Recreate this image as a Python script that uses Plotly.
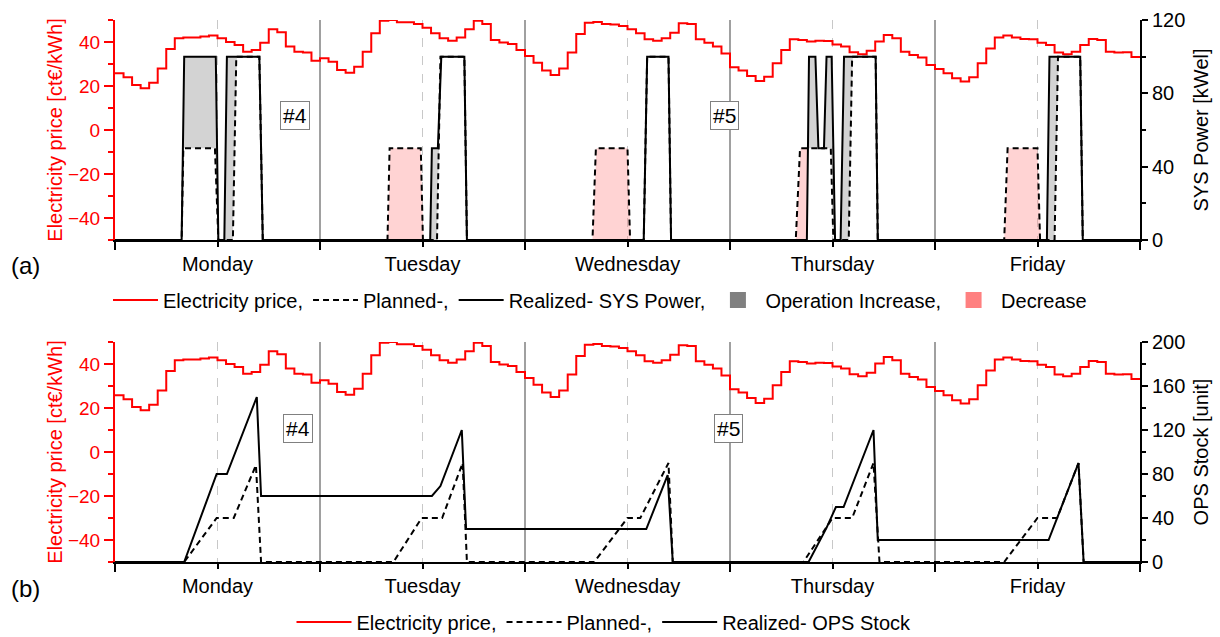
import numpy as np
import plotly.graph_objects as go

# ---------------- data ----------------
day_names = ["Monday", "Tuesday", "Wednesday", "Thursday", "Friday"]
day_centers = [12, 36, 60, 84, 108]
day_bounds = [0, 24, 48, 72, 96, 120]

# hourly electricity price [ct€/kWh], hours 0..119
price = [25.8, 24.0, 20.5, 19.0, 21.5, 28.0, 36.8, 41.7, 42.0, 42.0, 42.5, 43.0,
         41.7, 40.0, 38.6, 35.6, 36.4, 39.7, 45.8, 44.4, 37.9, 35.6, 35.2, 31.5,
         32.6, 31.0, 27.3, 26.0, 28.8, 35.6, 44.0, 49.7, 50.0, 49.0, 49.0, 48.2,
         46.5, 44.0, 41.7, 40.6, 42.1, 45.8, 49.7, 48.2, 40.9, 39.8, 39.1, 36.4,
         33.6, 30.6, 27.0, 25.0, 28.0, 35.2, 43.6, 48.8, 49.1, 48.2, 48.0, 47.3,
         45.8, 44.0, 41.2, 40.6, 41.7, 44.2, 48.5, 48.2, 41.2, 39.7, 37.9, 34.8,
         28.5, 27.0, 24.5, 22.3, 24.2, 30.3, 36.4, 41.2, 40.9, 40.2, 40.6, 40.5,
         38.9, 37.9, 35.3, 34.4, 36.0, 40.2, 43.2, 41.7, 35.6, 34.1, 33.0, 29.5,
         27.7, 25.8, 23.5, 22.0, 24.0, 30.3, 37.1, 42.0, 42.9, 42.1, 41.4, 41.2,
         39.7, 38.6, 35.2, 34.4, 35.6, 38.6, 41.4, 40.9, 35.6, 35.2, 35.3, 33.2]
price_hours = list(range(len(price)))

# SYS power [kWel] - planned
sys_plan_t = [0, 7.8, 8.0, 11.7, 12.1, 13.8, 14.2, 16.9, 17.3,
              31.9, 32.15, 35.8, 36.05, 37.7, 38.1, 40.9, 41.2,
              55.9, 56.3, 60.0, 60.3, 61.9, 62.3, 64.8, 65.1,
              79.7, 80.2, 83.8, 84.1, 85.9, 86.3, 89.05, 89.3,
              104.1, 104.5, 108.0, 108.3, 110.0, 110.4, 113.0, 113.3, 120]
sys_plan_v = [0, 0, 50, 50, 0, 0, 100, 100, 0,
              0, 50, 50, 0, 0, 100, 100, 0,
              0, 50, 50, 0, 0, 100, 100, 0,
              0, 50, 50, 0, 0, 100, 100, 0,
              0, 50, 50, 0, 0, 100, 100, 0, 0]

# SYS power [kWel] - realized
sys_real_t = [0, 7.8, 8.1, 11.8, 12.1, 12.8, 13.1, 16.9, 17.3,
              36.9, 37.1, 37.8, 38.2, 40.9, 41.2,
              61.9, 62.3, 64.8, 65.1,
              81.0, 81.25, 82.0, 82.35, 83.0, 83.3, 83.9, 84.3,
              84.95, 85.35, 89.05, 89.3,
              109.1, 109.4, 113.0, 113.3, 120]
sys_real_v = [0, 0, 100, 100, 0, 0, 100, 100, 0,
              0, 50, 50, 100, 100, 0,
              0, 100, 100, 0,
              0, 100, 100, 50, 50, 100, 100, 0,
              0, 100, 100, 0,
              0, 100, 100, 0, 0]

# OPS stock [unit] - planned
ops_plan_t = [0, 8.1, 11.9, 13.9, 16.5, 17.1,
              32.6, 35.9, 38.3, 40.7, 41.2,
              56.1, 60.0, 61.5, 64.8, 65.3,
              80.6, 84.0, 86.3, 88.8, 89.5,
              104.1, 108.0, 110.3, 112.8, 113.4, 120]
ops_plan_v = [0, 0, 40, 40, 88, 0,
              0, 40, 40, 90, 0,
              0, 40, 40, 90, 0,
              0, 40, 40, 90, 0,
              0, 40, 40, 90, 0, 0]

# OPS stock [unit] - realized
ops_real_t = [0, 8.1, 11.9, 13.1, 16.6, 17.1,
              37.1, 38.1, 40.6, 41.1,
              62.2, 64.7, 65.3,
              81.2, 83.3, 84.4, 85.3, 88.8, 89.3,
              109.3, 112.8, 113.4, 120]
ops_real_v = [0, 0, 80, 80, 150, 60,
              60, 69, 120, 30,
              30, 79, 0,
              0, 31, 50, 50, 120, 20,
              20, 90, 0, 0]

# ---------------- styling ----------------
FONT = "Liberation Sans, Arial, sans-serif"
RED = "#ff0000"
DASH = "6px,4px"

fig = go.Figure()

# fill areas (operation increase / decrease) between planned and realized SYS power
grid = np.union1d(np.linspace(0, 120, 4801), np.union1d(sys_plan_t, sys_real_t))
p_i = np.interp(grid, sys_plan_t, sys_plan_v)
r_i = np.interp(grid, sys_real_t, sys_real_v)
upper = np.maximum(p_i, r_i)

common = dict(xaxis="x", yaxis="y2", mode="lines", showlegend=False, hoverinfo="skip")
fig.add_trace(go.Scatter(x=grid, y=p_i, line=dict(width=0), **common))
fig.add_trace(go.Scatter(x=grid, y=upper, line=dict(width=0), fill="tonexty",
                         fillcolor="rgba(128,128,128,0.35)", **common))
fig.add_trace(go.Scatter(x=grid, y=r_i, line=dict(width=0), **common))
fig.add_trace(go.Scatter(x=grid, y=upper, line=dict(width=0), fill="tonexty",
                         fillcolor="rgba(255,128,128,0.35)", **common))

# top panel lines
px = price_hours + [120]
py = price + [price[-1]]
fig.add_trace(go.Scatter(x=px, y=py, xaxis="x", yaxis="y", mode="lines",
                         line=dict(color=RED, width=2, shape="hv"),
                         name="Electricity price,", legend="legend"))
fig.add_trace(go.Scatter(x=sys_plan_t, y=sys_plan_v, xaxis="x", yaxis="y2", mode="lines",
                         line=dict(color="black", width=2, dash=DASH),
                         name="Planned-,", legend="legend"))
fig.add_trace(go.Scatter(x=sys_real_t, y=sys_real_v, xaxis="x", yaxis="y2", mode="lines",
                         line=dict(color="black", width=2),
                         name="Realized- SYS Power,", legend="legend"))
fig.add_trace(go.Scatter(x=[None], y=[None], xaxis="x", yaxis="y2", mode="markers",
                         marker=dict(symbol="square", size=18, color="#808080"),
                         name="Operation Increase,", legend="legend"))
fig.add_trace(go.Scatter(x=[None], y=[None], xaxis="x", yaxis="y2", mode="markers",
                         marker=dict(symbol="square", size=18, color="#ff8080"),
                         name="Decrease", legend="legend"))

# bottom panel lines
fig.add_trace(go.Scatter(x=px, y=py, xaxis="x2", yaxis="y3", mode="lines",
                         line=dict(color=RED, width=2, shape="hv"),
                         name="Electricity price,", legend="legend2"))
fig.add_trace(go.Scatter(x=ops_plan_t, y=ops_plan_v, xaxis="x2", yaxis="y4", mode="lines",
                         line=dict(color="black", width=2, dash=DASH),
                         name="Planned-,", legend="legend2"))
fig.add_trace(go.Scatter(x=ops_real_t, y=ops_real_v, xaxis="x2", yaxis="y4", mode="lines",
                         line=dict(color="black", width=2),
                         name="Realized- OPS Stock", legend="legend2"))

W, H = 1220, 637
ML, MR, MT, MB = 115, 80, 20, 75
ph = H - MT - MB
pw = W - ML - MR


def py_frac(pix):
    return (H - MB - pix) / ph


def xaxis_cfg(anchor):
    return dict(domain=[0, 1], anchor=anchor, range=[0, 120],
                tickmode="array", tickvals=day_centers, ticktext=day_names,
                ticks="outside", ticklen=5, tickwidth=1.5, tickcolor="black",
                showline=True, linecolor="black", linewidth=2,
                showgrid=True, gridcolor="#c8c8c8", griddash="dash", gridwidth=1,
                minor=dict(tickmode="array", tickvals=day_bounds, ticks="outside", ticklen=8,
                           tickwidth=1.5, tickcolor="black", showgrid=True,
                           gridcolor="#a0a0a0", gridwidth=1.5, griddash="solid"),
                zeroline=False, tickfont=dict(size=20, color="black", family=FONT),
                ticklabelstandoff=0)


def price_axis(domain, anchor):
    return dict(domain=domain, anchor=anchor, range=[-50, 50],
                tickmode="array", tickvals=[-40, -20, 0, 20, 40],
                ticks="outside", ticklen=9, tickwidth=2, tickcolor=RED,
                showline=True, linecolor=RED, linewidth=2,
                minor=dict(tickmode="array", tickvals=[-50, -30, -10, 10, 30, 50],
                           ticks="outside", ticklen=5, tickwidth=2, tickcolor=RED),
                showgrid=False, zeroline=False,
                tickfont=dict(size=19, color=RED, family=FONT),
                title=dict(text="Electricity price [ct€/kWh]",
                           font=dict(size=20, color=RED, family=FONT), standoff=0))


def right_axis(over, anchor, rng, major, minor, title):
    return dict(overlaying=over, side="right", anchor=anchor,
                range=rng, tickmode="array", tickvals=major,
                ticks="outside", ticklen=6, tickwidth=2, tickcolor="black",
                showline=True, linecolor="black", linewidth=2,
                minor=dict(tickmode="array", tickvals=minor, ticks="outside",
                           ticklen=4, tickwidth=2, tickcolor="black"),
                showgrid=False, zeroline=False,
                tickfont=dict(size=20, color="black", family=FONT),
                title=dict(text=title, font=dict(size=20, color="black", family=FONT),
                           standoff=10))


ya2 = right_axis("y", "x", [0, 120], [0, 40, 80, 120], [20, 60, 100], "SYS Power [kWel]")
ya4 = right_axis("y3", "x2", [0, 200], [0, 40, 80, 120, 160, 200], [20, 60, 100, 140, 180],
                 "OPS Stock [unit]")

top_dom = [py_frac(240), 1.0]
bot_dom = [0.0, py_frac(342)]

box = dict(showarrow=False, font=dict(size=21), bgcolor="white", bordercolor="#808080",
           borderwidth=1, borderpad=2)

fig.update_layout(
    width=W, height=H,
    margin=dict(l=ML, r=MR, t=MT, b=MB, autoexpand=False),
    paper_bgcolor="white", plot_bgcolor="white",
    font=dict(family=FONT, size=20, color="black"),
    xaxis=xaxis_cfg("y"),
    xaxis2=xaxis_cfg("y3"),
    yaxis=price_axis(top_dom, "x"),
    yaxis2=ya2,
    yaxis3=price_axis(bot_dom, "x2"),
    yaxis4=ya4,
    legend=dict(orientation="h", x=(600 - ML) / pw, xanchor="center",
                y=py_frac(300), yanchor="middle", font=dict(size=20, family=FONT),
                bgcolor="rgba(0,0,0,0)", itemwidth=45, traceorder="normal"),
    legend2=dict(orientation="h", x=(604 - ML) / pw, xanchor="center",
                 y=py_frac(622), yanchor="middle", font=dict(size=20, family=FONT),
                 bgcolor="rgba(0,0,0,0)", itemwidth=55, traceorder="normal"),
    showlegend=True,
    annotations=[
        dict(text="#4", x=21.1, y=6.8, xref="x", yref="y", **box),
        dict(text="#5", x=71.4, y=6.8, xref="x", yref="y", **box),
        dict(text="#4", x=21.4, y=10.9, xref="x2", yref="y3", **box),
        dict(text="#5", x=71.8, y=10.9, xref="x2", yref="y3", **box),
        dict(text="(a)", x=(25 - ML) / pw, y=py_frac(265), xref="paper",
             yref="paper", showarrow=False, font=dict(size=24), xanchor="center",
             yanchor="middle"),
        dict(text="(b)", x=(25 - ML) / pw, y=py_frac(588), xref="paper",
             yref="paper", showarrow=False, font=dict(size=24), xanchor="center",
             yanchor="middle"),
    ],
)

fig.write_html("out.html", config={"displayModeBar": False},
               post_script="document.body.style.margin='0';"
                           "document.body.style.overflow='hidden';")
